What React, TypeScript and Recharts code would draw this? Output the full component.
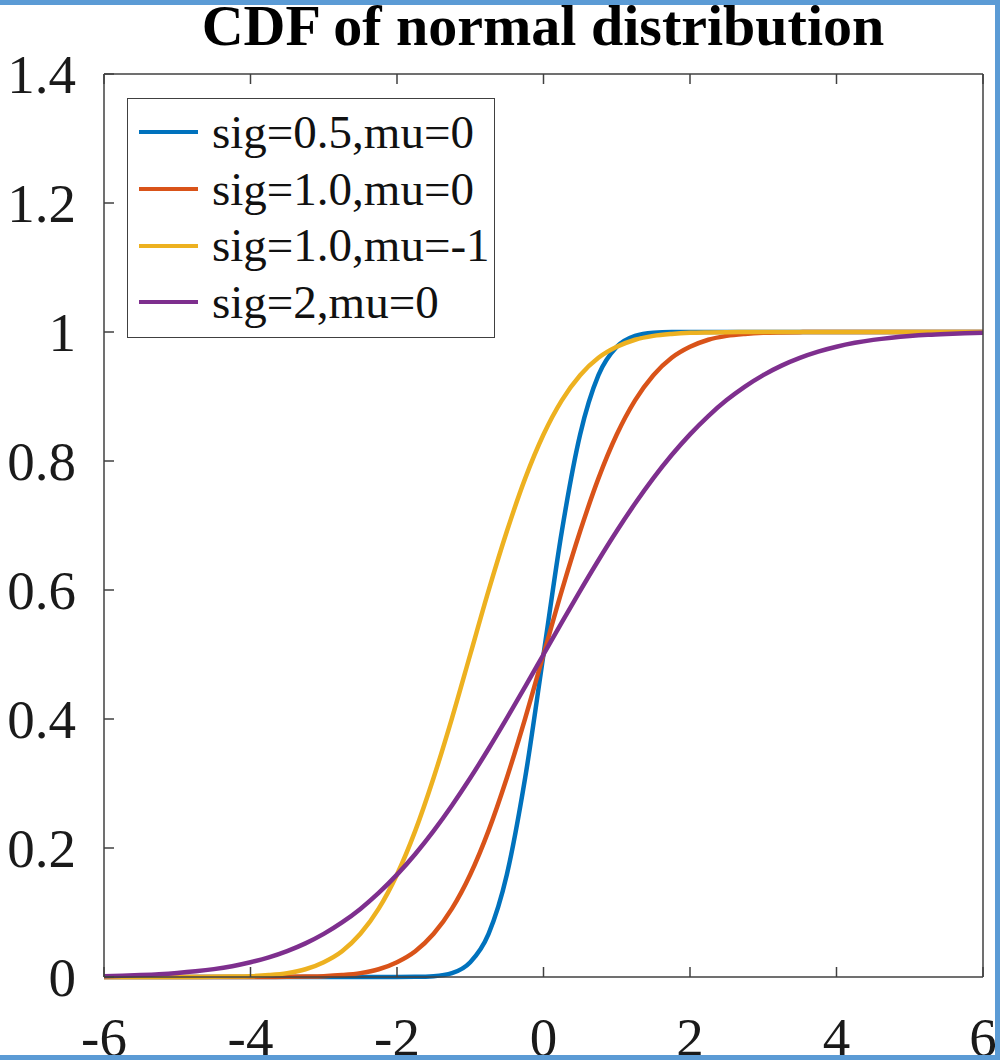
import { LineChart, Line, XAxis, YAxis, Legend } from 'recharts';

const xs = [
  -6, -5.75, -5.5, -5.25, -5, -4.75, -4.5, -4.25, -4, -3.75, -3.5, -3.25, -3, -2.75, -2.5, -2.25,
  -2, -1.75, -1.5, -1.25, -1, -0.75, -0.5, -0.25, 0, 0.25, 0.5, 0.75, 1, 1.25, 1.5, 1.75,
  2, 2.25, 2.5, 2.75, 3, 3.25, 3.5, 3.75, 4, 4.25, 4.5, 4.75, 5, 5.25, 5.5, 5.75, 6,
];

const sig05mu0 = [
  0, 0, 0, 0, 0, 0, 0, 0, 0, 0, 0, 0, 0, 0, 0, 0,
  0, 0.0002, 0.0013, 0.006, 0.023, 0.067, 0.159, 0.309, 0.5, 0.691, 0.841, 0.933, 0.977, 0.994, 0.999, 1,
  1, 1, 1, 1, 1, 1, 1, 1, 1, 1, 1, 1, 1, 1, 1, 1, 1,
];

const sig1mu0 = [
  0, 0, 0, 0, 0, 0, 0, 0, 0, 0.0001, 0.0002, 0.0006, 0.0013, 0.003, 0.006, 0.012,
  0.023, 0.04, 0.067, 0.106, 0.159, 0.227, 0.309, 0.401, 0.5, 0.599, 0.691, 0.773, 0.841, 0.894, 0.933, 0.96,
  0.977, 0.988, 0.994, 0.997, 0.9987, 0.9994, 0.9998, 0.9999, 1, 1, 1, 1, 1, 1, 1, 1, 1,
];

const sig1mum1 = [
  0, 0, 0, 0, 0, 0.0001, 0.0002, 0.0006, 0.0013, 0.003, 0.006, 0.012, 0.023, 0.04, 0.067, 0.106,
  0.159, 0.227, 0.309, 0.401, 0.5, 0.599, 0.691, 0.773, 0.841, 0.894, 0.933, 0.96, 0.977, 0.988, 0.994, 0.997,
  0.9987, 0.9994, 0.9998, 0.9999, 1, 1, 1, 1, 1, 1, 1, 1, 1, 1, 1, 1, 1,
];

const sig2mu0 = [
  0.0013, 0.002, 0.003, 0.0043, 0.0062, 0.0088, 0.0122, 0.0168, 0.0228, 0.0304, 0.0401, 0.0521, 0.0668, 0.0846, 0.1056, 0.1303,
  0.1587, 0.1908, 0.2266, 0.266, 0.3085, 0.3538, 0.4013, 0.4503, 0.5, 0.5497, 0.5987, 0.6462, 0.6915, 0.734, 0.7734, 0.8092,
  0.8413, 0.8697, 0.8944, 0.9154, 0.9332, 0.9479, 0.9599, 0.9696, 0.9772, 0.9832, 0.9878, 0.9912, 0.9938, 0.9957, 0.997, 0.998, 0.9987,
];

const xTicks = [-6, -4, -2, 0, 2, 4, 6];
const yTicks = [0, 0.2, 0.4, 0.6, 0.8, 1, 1.2, 1.4];

const series = [
  { key: 's1', name: 'sig=0.5,mu=0', color: '#0072BD', values: sig05mu0 },
  { key: 's2', name: 'sig=1.0,mu=0', color: '#D95319', values: sig1mu0 },
  { key: 's3', name: 'sig=1.0,mu=-1', color: '#EDB120', values: sig1mum1 },
  { key: 's4', name: 'sig=2,mu=0', color: '#7E2F8E', values: sig2mu0 },
];

const data = xs.map((x, i) => {
  const row: Record<string, number> = { x };
  series.forEach((s) => (row[s.key] = s.values[i]));
  return row;
});

const FONT = '"Liberation Serif", "Times New Roman", serif';
const AXIS = '#404040';
const TICK_LEN = 10;

const fmtY = (v: number) => (v === 0 ? '0' : v === 1 ? '1' : v.toFixed(1));

const BottomTick = (props: any) => {
  const { x, y, payload } = props;
  return (
    <g>
      <line x1={x} y1={y} x2={x} y2={y - TICK_LEN} stroke={AXIS} strokeWidth={1.5} />
      <text x={x} y={y + 79} textAnchor="middle" fontFamily={FONT} fontSize={55} fill="#1a1a1a">
        {payload.value}
      </text>
    </g>
  );
};

const TopTick = (props: any) => {
  const { x, y } = props;
  return <line x1={x} y1={y} x2={x} y2={y + TICK_LEN} stroke={AXIS} strokeWidth={1.5} />;
};

const LeftTick = (props: any) => {
  const { x, y, payload } = props;
  return (
    <g>
      <line x1={x} y1={y} x2={x + TICK_LEN} y2={y} stroke={AXIS} strokeWidth={1.5} />
      <text x={x - 28} y={y} dy="0.34em" textAnchor="end" fontFamily={FONT} fontSize={55} fill="#1a1a1a">
        {fmtY(payload.value)}
      </text>
    </g>
  );
};

const RightTick = (props: any) => {
  const { x, y } = props;
  return <line x1={x} y1={y} x2={x - TICK_LEN} y2={y} stroke={AXIS} strokeWidth={1.5} />;
};

const LegendBox = () => (
  <div
    style={{
      width: 368,
      height: 240,
      border: `1.5px solid ${AXIS}`,
      background: '#fff',
      boxSizing: 'border-box',
      paddingTop: 5,
    }}
  >
    {series.map((s) => (
      <div key={s.key} style={{ display: 'flex', alignItems: 'center', height: 56.7 }}>
        <div style={{ width: 59, height: 4, background: s.color, marginLeft: 11, marginRight: 14 }} />
        <span style={{ fontFamily: FONT, fontSize: 47, color: '#111', lineHeight: 1 }}>{s.name}</span>
      </div>
    ))}
  </div>
);

export default function App() {
  return (
    <div style={{ position: 'absolute', left: 0, top: 0, width: 1000, height: 1060, background: '#fff' }}>
      <svg width={1000} height={60} style={{ position: 'absolute', left: 0, top: 0 }}>
        <text x={543} y={45} textAnchor="middle" fontFamily={FONT} fontWeight="bold" fontSize={58} fill="#000">
          CDF of normal distribution
        </text>
      </svg>
      <div style={{ position: 'absolute', left: 0, top: 0 }}>
        <LineChart width={1000} height={1060} data={data} margin={{ top: 73, right: 16, bottom: 82, left: 103 }}>
          <XAxis
            dataKey="x"
            type="number"
            domain={[-6, 6]}
            ticks={xTicks}
            interval={0}
            height={1}
            tickSize={0}
            tickMargin={0}
            tickLine={false}
            stroke={AXIS}
            strokeWidth={1.5}
            tick={BottomTick}
          />
          <XAxis
            xAxisId="top"
            orientation="top"
            dataKey="x"
            type="number"
            domain={[-6, 6]}
            ticks={xTicks}
            interval={0}
            height={1}
            tickSize={0}
            tickMargin={0}
            tickLine={false}
            stroke={AXIS}
            strokeWidth={1.5}
            tick={TopTick}
          />
          <YAxis
            type="number"
            domain={[0, 1.4]}
            ticks={yTicks}
            interval={0}
            width={1}
            tickSize={0}
            tickMargin={0}
            tickLine={false}
            stroke={AXIS}
            strokeWidth={1.5}
            tick={LeftTick}
          />
          <YAxis
            yAxisId="right"
            orientation="right"
            type="number"
            domain={[0, 1.4]}
            ticks={yTicks}
            interval={0}
            width={1}
            tickSize={0}
            tickMargin={0}
            tickLine={false}
            stroke={AXIS}
            strokeWidth={1.5}
            tick={RightTick}
          />
          {series.map((s) => (
            <Line
              key={s.key}
              type="monotone"
              dataKey={s.key}
              name={s.name}
              stroke={s.color}
              strokeWidth={4.5}
              dot={false}
              activeDot={false}
              isAnimationActive={false}
            />
          ))}
          <Legend
            layout="horizontal"
            verticalAlign="middle"
            align="center"
            content={LegendBox}
            wrapperStyle={{ position: 'absolute', left: 127, top: 98, width: 368, height: 240 }}
          />
        </LineChart>
      </div>
      <div
        style={{
          position: 'absolute',
          left: 0,
          top: 0,
          width: 1000,
          height: 1060,
          boxSizing: 'border-box',
          borderTop: '5px solid #5B9BD5',
          borderRight: '5px solid #5B9BD5',
          borderBottom: '5px solid #5B9BD5',
          pointerEvents: 'none',
        }}
      />
    </div>
  );
}
